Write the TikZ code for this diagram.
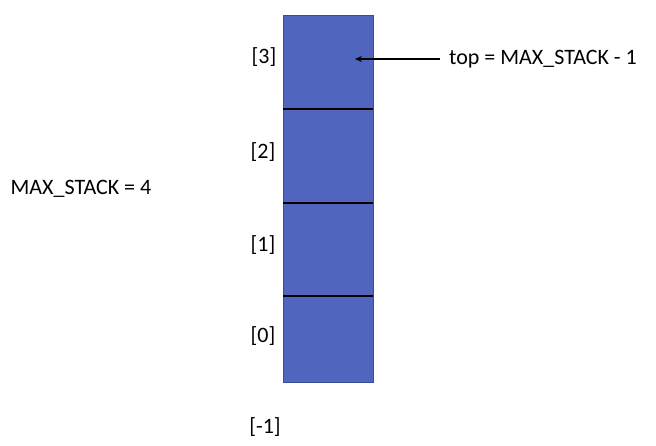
\documentclass[tikz,border=0pt]{standalone}
\usepackage{fontspec}
\setmainfont{Carlito}
\usetikzlibrary{arrows.meta}
\definecolor{cellblue}{RGB}{80,101,190}
\definecolor{celledge}{RGB}{60,76,150}

\begin{document}
\begin{tikzpicture}[x=1pt, y=-1pt, font=\fontsize{22}{26}\selectfont,
    cell/.style={draw=celledge, fill=cellblue, minimum width=90pt, inner sep=0pt, outer sep=0pt},
    idx/.style={inner sep=0pt}]
            \useasboundingbox (0,0) rectangle (656,445);
            % Stack
            \node [cell, minimum height=94pt] (c3) at (328,62) {};
            \node [cell, minimum height=94pt] (c2) at (328,156) {};
            \node [cell, minimum height=93pt] (c1) at (328,249.5) {};
            \node [cell, minimum height=86pt] (c0) at (328,339) {};
            \draw [line width=1.6pt] (c3.south west) -- (c3.south east);
            \draw [line width=1.6pt] (c2.south west) -- (c2.south east);
            \draw [line width=1.6pt] (c1.south west) -- (c1.south east);

            % Indices
            \node [idx] (i3) at (264,57) {[3]};
            \node [idx] (i2) at (263,152) {[2]};
            \node [idx] (i1) at (263,245) {[1]};
            \node [idx] (i0) at (263,336) {[0]};
            \node [idx] (im) at (265,427) {[-1]};

            \node [idx] (max) at (81,189) {MAX\_STACK = 4};

            % Top pointer
            \node [idx, anchor=west] (top) at (449,59) {top = MAX\_STACK - 1};
            \coordinate (topptr) at (355,59);
            \draw [-{Stealth[length=7pt, width=6pt]}, line width=1.3pt] ([xshift=-9pt]top.west) -- (topptr);
        \end{tikzpicture}
\end{document}
